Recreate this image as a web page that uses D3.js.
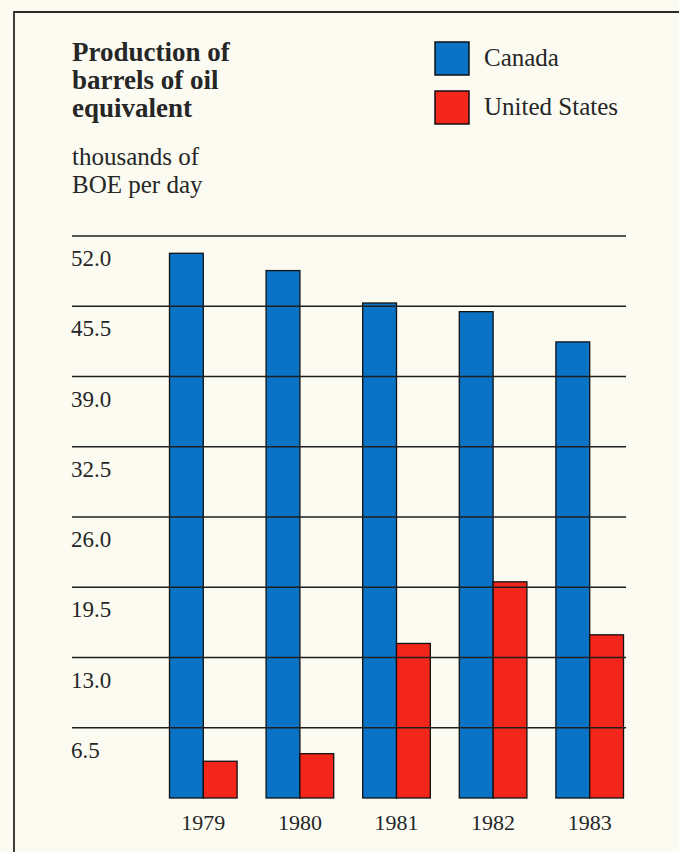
<!DOCTYPE html>
<html>
<head>
<meta charset="utf-8">
<script src="https://cdn.jsdelivr.net/npm/d3@7"></script>
<style>
  body { margin: 0; background: #fbfbf1; }
  svg { display: block; }
  text { font-family: "Liberation Serif", "Times New Roman", serif; fill: #262626; }
</style>
</head>
<body>
<svg id="viz"></svg>
<script>
var width = 679;
var height = 852;

// values (thousands of BOE per day)
var years = ["1979", "1980", "1981", "1982", "1983"];
var canada = [50.4, 48.8, 45.8, 45.0, 42.2];
var unitedStates = [3.4, 4.1, 14.3, 20.0, 15.1];
var seriesNames = ["Canada", "United States"];
var tickValues = [6.5, 13.0, 19.5, 26.0, 32.5, 39.0, 45.5, 52.0];
var titleLines = ["Production of", "barrels of oil", "equivalent"];
var unitLines = ["thousands of", "BOE per day"];

var color = d3.scaleOrdinal().domain(seriesNames).range(["#0b73c6", "#f2261b"]);

var svg = d3.select("#viz").attr("width", width).attr("height", height);

svg.append("rect")
    .attr("width", width)
    .attr("height", height)
    .attr("fill", "#fbfbf1");

// frame (top + left only)
svg.append("path")
    .attr("d", "M14," + height + "V12H" + width)
    .attr("fill", "none")
    .attr("stroke", "#2b2b24")
    .attr("stroke-width", 1.8);

var x = d3.scaleBand().domain(years).range([155, 638])
    .paddingInner(0.3)
    .paddingOuter(0.15);
var xs = d3.scaleBand().domain(seriesNames).range([0, x.bandwidth()]);
var y = d3.scaleLinear().domain([0, 52]).range([798, 236]);

var rows = years.map(function (yr, i) {
    return { year: yr, values: [canada[i], unitedStates[i]] };
});

var groups = svg.append("g").attr("class", "bars")
    .selectAll("g")
    .data(rows)
    .enter()
    .append("g")
    .attr("transform", function (d) { return "translate(" + x(d.year) + ",0)"; });

groups.selectAll("rect")
    .data(function (d) {
        return d.values.map(function (v, j) { return { key: seriesNames[j], value: v }; });
    })
    .enter()
    .append("rect")
    .attr("x", function (d) { return xs(d.key); })
    .attr("y", function (d) { return y(d.value); })
    .attr("width", xs.bandwidth())
    .attr("height", function (d) { return y(0) - y(d.value); })
    .attr("fill", function (d) { return color(d.key); })
    .attr("stroke", "#111")
    .attr("stroke-width", 1.3);

// gridlines sit on top of the bars
var grid = svg.append("g").attr("class", "grid");
grid.selectAll("line")
    .data(tickValues)
    .enter()
    .append("line")
    .attr("x1", 72)
    .attr("x2", 626)
    .attr("y1", function (d) { return y(d); })
    .attr("y2", function (d) { return y(d); })
    .attr("stroke", "#1f1f1f")
    .attr("stroke-width", 1.3);

grid.selectAll("text")
    .data(tickValues)
    .enter()
    .append("text")
    .attr("x", 71)
    .attr("y", function (d) { return y(d) + 30; })
    .style("font-size", "23px")
    .text(function (d) { return d3.format(".1f")(d); });

svg.append("g").attr("class", "years")
    .selectAll("text")
    .data(years)
    .enter()
    .append("text")
    .attr("x", function (d) { return x(d) + x.bandwidth() / 2; })
    .attr("y", 830)
    .attr("text-anchor", "middle")
    .style("font-size", "22px")
    .text(function (d) { return d; });

// title + units
svg.append("g")
    .selectAll("text")
    .data(titleLines)
    .enter()
    .append("text")
    .attr("x", 72)
    .attr("y", function (d, i) { return 61 + i * 28; })
    .style("font-size", "27px")
    .style("font-weight", "bold")
    .text(function (d) { return d; });

svg.append("g")
    .selectAll("text")
    .data(unitLines)
    .enter()
    .append("text")
    .attr("x", 72)
    .attr("y", function (d, i) { return 165 + i * 28; })
    .style("font-size", "25px")
    .text(function (d) { return d; });

// legend
var legend = svg.append("g").attr("class", "legend")
    .selectAll("g")
    .data(seriesNames)
    .enter()
    .append("g")
    .attr("transform", function (d, i) { return "translate(435," + (42 + i * 49) + ")"; });

legend.append("rect")
    .attr("width", 34)
    .attr("height", 33)
    .attr("fill", function (d) { return color(d); })
    .attr("stroke", "#111")
    .attr("stroke-width", 1.5);

legend.append("text")
    .attr("x", 49)
    .attr("y", 24)
    .style("font-size", "25px")
    .text(function (d) { return d; });
</script>
</body>
</html>
